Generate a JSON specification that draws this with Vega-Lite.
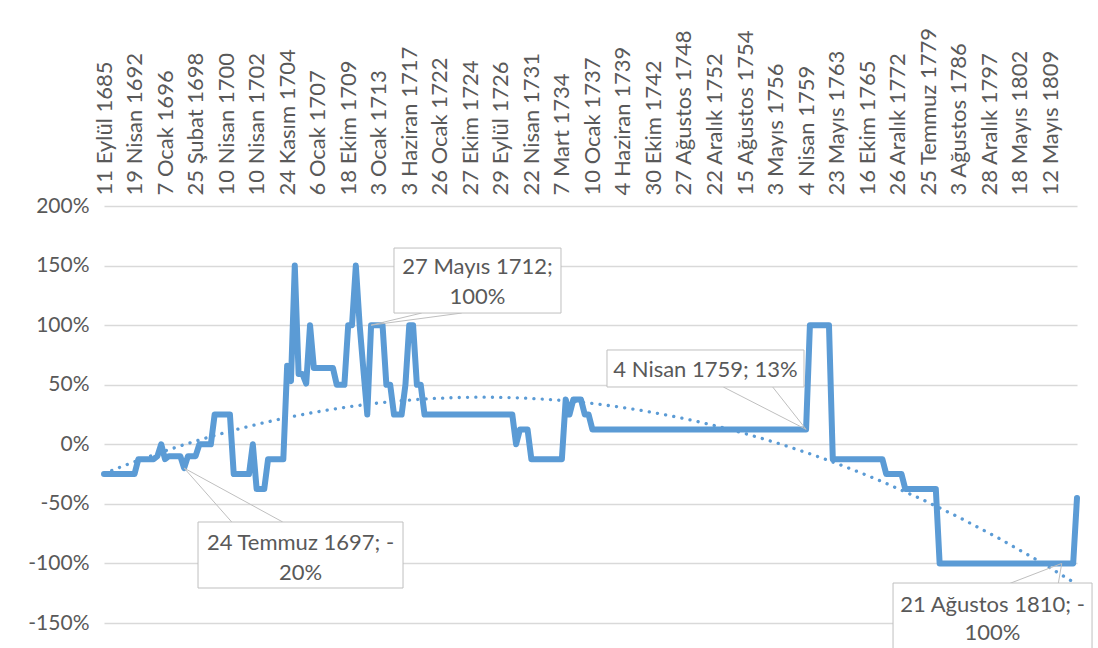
{
  "$schema": "https://vega.github.io/schema/vega-lite/v6.json",
  "autosize": {"type": "none"},
  "padding": {"left": 104, "top": 206, "right": 21, "bottom": 25},
  "width": 973,
  "height": 417,
  "background": "white",
  "config": {"view": {"stroke": null}},
  "data": {"values": [
    {"i":0,"date":"11 Eylül 1685","v":-0.25},{"i":1,"v":-0.25},{"i":2,"v":-0.25},{"i":3,"v":-0.25},{"i":4,"v":-0.25},{"i":5,"v":-0.25},{"i":6,"v":-0.25},{"i":7,"v":-0.25},
    {"i":8,"date":"19 Nisan 1692","v":-0.25},{"i":9,"v":-0.125},{"i":10,"v":-0.125},{"i":11,"v":-0.125},{"i":12,"v":-0.125},{"i":13,"v":-0.125},{"i":14,"v":-0.1},{"i":15,"v":0},
    {"i":16,"date":"7 Ocak 1696","v":-0.125},{"i":17,"v":-0.1},{"i":18,"v":-0.1},{"i":19,"v":-0.1},{"i":20,"v":-0.1},{"i":21,"date":"24 Temmuz 1697","v":-0.2},{"i":22,"v":-0.1},{"i":23,"v":-0.1},
    {"i":24,"date":"25 Şubat 1698","v":-0.1},{"i":25,"v":0},{"i":26,"v":0},{"i":27,"v":0},{"i":28,"v":0},{"i":29,"v":0.25},{"i":30,"v":0.25},{"i":31,"v":0.25},
    {"i":32,"date":"10 Nisan 1700","v":0.25},{"i":33,"v":0.25},{"i":34,"v":-0.25},{"i":35,"v":-0.25},{"i":36,"v":-0.25},{"i":37,"v":-0.25},{"i":38,"v":-0.25},{"i":39,"v":0},
    {"i":40,"date":"10 Nisan 1702","v":-0.375},{"i":41,"v":-0.375},{"i":42,"v":-0.375},{"i":43,"v":-0.125},{"i":44,"v":-0.125},{"i":45,"v":-0.125},{"i":46,"v":-0.125},{"i":47,"v":-0.125},
    {"i":48,"date":"24 Kasım 1704","v":0.66},{"i":49,"v":0.53},{"i":50,"v":1.5},{"i":51,"v":0.59},{"i":52,"v":0.59},{"i":53,"v":0.51},{"i":54,"v":1},{"i":55,"v":0.64},
    {"i":56,"date":"6 Ocak 1707","v":0.64},{"i":57,"v":0.64},{"i":58,"v":0.64},{"i":59,"v":0.64},{"i":60,"v":0.64},{"i":61,"v":0.5},{"i":62,"v":0.5},{"i":63,"v":0.5},
    {"i":64,"date":"18 Ekim 1709","v":1},{"i":65,"v":1},{"i":66,"v":1.5},{"i":67,"v":1},{"i":68,"v":0.62},{"i":69,"v":0.25},{"i":70,"date":"27 Mayıs 1712","v":1},{"i":71,"v":1},
    {"i":72,"date":"3 Ocak 1713","v":1},{"i":73,"v":1},{"i":74,"v":0.5},{"i":75,"v":0.5},{"i":76,"v":0.25},{"i":77,"v":0.25},{"i":78,"v":0.25},{"i":79,"v":0.5},
    {"i":80,"date":"3 Haziran 1717","v":1},{"i":81,"v":1},{"i":82,"v":0.5},{"i":83,"v":0.5},{"i":84,"v":0.25},{"i":85,"v":0.25},{"i":86,"v":0.25},{"i":87,"v":0.25},
    {"i":88,"date":"26 Ocak 1722","v":0.25},{"i":89,"v":0.25},{"i":90,"v":0.25},{"i":91,"v":0.25},{"i":92,"v":0.25},{"i":93,"v":0.25},{"i":94,"v":0.25},{"i":95,"v":0.25},
    {"i":96,"date":"27 Ekim 1724","v":0.25},{"i":97,"v":0.25},{"i":98,"v":0.25},{"i":99,"v":0.25},{"i":100,"v":0.25},{"i":101,"v":0.25},{"i":102,"v":0.25},{"i":103,"v":0.25},
    {"i":104,"date":"29 Eylül 1726","v":0.25},{"i":105,"v":0.25},{"i":106,"v":0.25},{"i":107,"v":0.25},{"i":108,"v":0},{"i":109,"v":0.125},{"i":110,"v":0.125},{"i":111,"v":0.125},
    {"i":112,"date":"22 Nisan 1731","v":-0.125},{"i":113,"v":-0.125},{"i":114,"v":-0.125},{"i":115,"v":-0.125},{"i":116,"v":-0.125},{"i":117,"v":-0.125},{"i":118,"v":-0.125},{"i":119,"v":-0.125},
    {"i":120,"date":"7 Mart 1734","v":-0.125},{"i":121,"v":0.375},{"i":122,"v":0.25},{"i":123,"v":0.375},{"i":124,"v":0.375},{"i":125,"v":0.375},{"i":126,"v":0.25},{"i":127,"v":0.25},
    {"i":128,"date":"10 Ocak 1737","v":0.125},{"i":129,"v":0.125},{"i":130,"v":0.125},{"i":131,"v":0.125},{"i":132,"v":0.125},{"i":133,"v":0.125},{"i":134,"v":0.125},{"i":135,"v":0.125},
    {"i":136,"date":"4 Haziran 1739","v":0.125},{"i":137,"v":0.125},{"i":138,"v":0.125},{"i":139,"v":0.125},{"i":140,"v":0.125},{"i":141,"v":0.125},{"i":142,"v":0.125},{"i":143,"v":0.125},
    {"i":144,"date":"30 Ekim 1742","v":0.125},{"i":145,"v":0.125},{"i":146,"v":0.125},{"i":147,"v":0.125},{"i":148,"v":0.125},{"i":149,"v":0.125},{"i":150,"v":0.125},{"i":151,"v":0.125},
    {"i":152,"date":"27 Ağustos 1748","v":0.125},{"i":153,"v":0.125},{"i":154,"v":0.125},{"i":155,"v":0.125},{"i":156,"v":0.125},{"i":157,"v":0.125},{"i":158,"v":0.125},{"i":159,"v":0.125},
    {"i":160,"date":"22 Aralık 1752","v":0.125},{"i":161,"v":0.125},{"i":162,"v":0.125},{"i":163,"v":0.125},{"i":164,"v":0.125},{"i":165,"v":0.125},{"i":166,"v":0.125},{"i":167,"v":0.125},
    {"i":168,"date":"15 Ağustos 1754","v":0.125},{"i":169,"v":0.125},{"i":170,"v":0.125},{"i":171,"v":0.125},{"i":172,"v":0.125},{"i":173,"v":0.125},{"i":174,"v":0.125},{"i":175,"v":0.125},
    {"i":176,"date":"3 Mayıs 1756","v":0.125},{"i":177,"v":0.125},{"i":178,"v":0.125},{"i":179,"v":0.125},{"i":180,"v":0.125},{"i":181,"v":0.125},{"i":182,"v":0.125},{"i":183,"v":0.125},
    {"i":184,"date":"4 Nisan 1759","v":0.125},{"i":185,"v":1},{"i":186,"v":1},{"i":187,"v":1},{"i":188,"v":1},{"i":189,"v":1},{"i":190,"v":1},{"i":191,"v":-0.125},
    {"i":192,"date":"23 Mayıs 1763","v":-0.125},{"i":193,"v":-0.125},{"i":194,"v":-0.125},{"i":195,"v":-0.125},{"i":196,"v":-0.125},{"i":197,"v":-0.125},{"i":198,"v":-0.125},{"i":199,"v":-0.125},
    {"i":200,"date":"16 Ekim 1765","v":-0.125},{"i":201,"v":-0.125},{"i":202,"v":-0.125},{"i":203,"v":-0.125},{"i":204,"v":-0.125},{"i":205,"v":-0.25},{"i":206,"v":-0.25},{"i":207,"v":-0.25},
    {"i":208,"date":"26 Aralık 1772","v":-0.25},{"i":209,"v":-0.25},{"i":210,"v":-0.375},{"i":211,"v":-0.375},{"i":212,"v":-0.375},{"i":213,"v":-0.375},{"i":214,"v":-0.375},{"i":215,"v":-0.375},
    {"i":216,"date":"25 Temmuz 1779","v":-0.375},{"i":217,"v":-0.375},{"i":218,"v":-0.375},{"i":219,"v":-1},{"i":220,"v":-1},{"i":221,"v":-1},{"i":222,"v":-1},{"i":223,"v":-1},
    {"i":224,"date":"3 Ağustos 1786","v":-1},{"i":225,"v":-1},{"i":226,"v":-1},{"i":227,"v":-1},{"i":228,"v":-1},{"i":229,"v":-1},{"i":230,"v":-1},{"i":231,"v":-1},
    {"i":232,"date":"28 Aralık 1797","v":-1},{"i":233,"v":-1},{"i":234,"v":-1},{"i":235,"v":-1},{"i":236,"v":-1},{"i":237,"v":-1},{"i":238,"v":-1},{"i":239,"v":-1},
    {"i":240,"date":"18 Mayıs 1802","v":-1},{"i":241,"v":-1},{"i":242,"v":-1},{"i":243,"v":-1},{"i":244,"v":-1},{"i":245,"v":-1},{"i":246,"v":-1},{"i":247,"v":-1},
    {"i":248,"date":"12 Mayıs 1809","v":-1},{"i":249,"v":-1},{"i":250,"v":-1},{"i":251,"date":"21 Ağustos 1810","v":-1},{"i":252,"v":-1},{"i":253,"v":-1},{"i":254,"v":-1},{"i":255,"v":-0.45}
  ]},
  "encoding": {
    "x": {
      "field": "i", "type": "quantitative",
      "scale": {"domain": [0, 255], "nice": false, "zero": false},
      "axis": {
        "orient": "top", "title": null,
        "values": [0,8,16,24,32,40,48,56,64,72,80,88,96,104,112,120,128,136,144,152,160,168,176,184,192,200,208,216,224,232,240,248],
        "labelExpr": "['11 Eylül 1685','19 Nisan 1692','7 Ocak 1696','25 Şubat 1698','10 Nisan 1700','10 Nisan 1702','24 Kasım 1704','6 Ocak 1707','18 Ekim 1709','3 Ocak 1713','3 Haziran 1717','26 Ocak 1722','27 Ekim 1724','29 Eylül 1726','22 Nisan 1731','7 Mart 1734','10 Ocak 1737','4 Haziran 1739','30 Ekim 1742','27 Ağustos 1748','22 Aralık 1752','15 Ağustos 1754','3 Mayıs 1756','4 Nisan 1759','23 Mayıs 1763','16 Ekim 1765','26 Aralık 1772','25 Temmuz 1779','3 Ağustos 1786','28 Aralık 1797','18 Mayıs 1802','12 Mayıs 1809'][datum.value / 8]",
        "labelAngle": -90, "labelAlign": "left", "labelBaseline": "middle",
        "ticks": false, "domain": false, "grid": false,
        "labelFont": "Lato", "labelFontSize": 22, "labelColor": "#595959",
        "labelPadding": 11, "labelOverlap": false, "labelBound": false, "labelFlush": false, "labelLimit": 0
      }
    },
    "y": {
      "field": "v", "type": "quantitative",
      "scale": {"domain": [-1.5, 2], "nice": false, "zero": false},
      "axis": {
        "orient": "left", "title": null,
        "values": [-1.5, -1, -0.5, 0, 0.5, 1, 1.5, 2],
        "labelExpr": "round(datum.value * 100) + '%'",
        "grid": true, "gridColor": "#D9D9D9", "gridWidth": 1.3,
        "ticks": false, "domain": false,
        "labelFont": "Lato", "labelFontSize": 21, "labelColor": "#595959",
        "labelPadding": 15
      }
    }
  },
  "layer": [
    {
      "mark": {"type": "line", "color": "#5B9BD5", "strokeWidth": 6, "strokeJoin": "round", "strokeCap": "round"}
    },
    {
      "transform": [{"regression": "v", "on": "i", "method": "poly", "order": 2, "extent": [0, 255]}],
      "mark": {"type": "line", "color": "#5B9BD5", "strokeWidth": 3.3, "strokeDash": [0.1, 8.2], "strokeCap": "round"}
    },
    {
      "transform": [{"filter": "datum.date === '24 Temmuz 1697'"}],
      "mark": {"type": "rule", "color": "#BFBFBF", "strokeWidth": 1, "x2Offset": 47.6, "y2Offset": 53.9},
      "encoding": {"x2": {"field": "i"}, "y2": {"field": "v"}}
    },
    {
      "transform": [{"filter": "datum.date === '24 Temmuz 1697'"}],
      "mark": {"type": "rule", "color": "#BFBFBF", "strokeWidth": 1, "x2Offset": 98.6, "y2Offset": 53.9},
      "encoding": {"x2": {"field": "i"}, "y2": {"field": "v"}}
    },
    {
      "transform": [{"filter": "datum.date === '24 Temmuz 1697'"}],
      "mark": {"type": "rect", "fill": "white", "stroke": "#BFBFBF", "strokeWidth": 1, "width": 205, "height": 66, "xOffset": 116.4, "yOffset": 86.9}
    },
    {
      "transform": [{"filter": "datum.date === '24 Temmuz 1697'"}, {"calculate": "datum.date + '; ' + (datum.v < 0 ? '-' : '') + '\\n' + format(abs(datum.v), '.0%')", "as": "lbl"}],
      "mark": {"type": "text", "font": "Lato", "fontSize": 22, "color": "#595959", "align": "center", "baseline": "middle", "lineBreak": "\n", "lineHeight": 30, "xOffset": 116.4, "yOffset": 74.9},
      "encoding": {"text": {"field": "lbl", "type": "nominal"}}
    },
    {
      "transform": [{"filter": "datum.date === '27 Mayıs 1712'"}],
      "mark": {"type": "rule", "color": "#BFBFBF", "strokeWidth": 1, "x2Offset": 50.6, "y2Offset": -12.1},
      "encoding": {"x2": {"field": "i"}, "y2": {"field": "v"}}
    },
    {
      "transform": [{"filter": "datum.date === '27 Mayıs 1712'"}],
      "mark": {"type": "rule", "color": "#BFBFBF", "strokeWidth": 1, "x2Offset": 90.6, "y2Offset": -12.1},
      "encoding": {"x2": {"field": "i"}, "y2": {"field": "v"}}
    },
    {
      "transform": [{"filter": "datum.date === '27 Mayıs 1712'"}],
      "mark": {"type": "rect", "fill": "white", "stroke": "#BFBFBF", "strokeWidth": 1, "width": 167, "height": 65, "xOffset": 106.4, "yOffset": -44.6}
    },
    {
      "transform": [{"filter": "datum.date === '27 Mayıs 1712'"}, {"calculate": "datum.date + '; ' + (datum.v < 0 ? '-' : '') + '\\n' + format(abs(datum.v), '.0%')", "as": "lbl"}],
      "mark": {"type": "text", "font": "Lato", "fontSize": 22, "color": "#595959", "align": "center", "baseline": "middle", "lineBreak": "\n", "lineHeight": 30, "xOffset": 106.4, "yOffset": -58.4},
      "encoding": {"text": {"field": "lbl", "type": "nominal"}}
    },
    {
      "transform": [{"filter": "datum.date === '4 Nisan 1759'"}],
      "mark": {"type": "rule", "color": "#BFBFBF", "strokeWidth": 1, "x2Offset": -82.8, "y2Offset": -42.4},
      "encoding": {"x2": {"field": "i"}, "y2": {"field": "v"}}
    },
    {
      "transform": [{"filter": "datum.date === '4 Nisan 1759'"}],
      "mark": {"type": "rule", "color": "#BFBFBF", "strokeWidth": 1, "x2Offset": -33.4, "y2Offset": -42.4},
      "encoding": {"x2": {"field": "i"}, "y2": {"field": "v"}}
    },
    {
      "transform": [{"filter": "datum.date === '4 Nisan 1759'"}],
      "mark": {"type": "rect", "fill": "white", "stroke": "#BFBFBF", "strokeWidth": 1, "width": 197, "height": 37, "xOffset": -100.6, "yOffset": -60.9}
    },
    {
      "transform": [{"filter": "datum.date === '4 Nisan 1759'"}, {"calculate": "datum.date + '; ' + format(datum.v, '.0%')", "as": "lbl"}],
      "mark": {"type": "text", "font": "Lato", "fontSize": 22, "color": "#595959", "align": "center", "baseline": "middle", "xOffset": -100.6, "yOffset": -59.4},
      "encoding": {"text": {"field": "lbl", "type": "nominal"}}
    },
    {
      "transform": [{"filter": "datum.date === '21 Ağustos 1810'"}],
      "mark": {"type": "rule", "color": "#BFBFBF", "strokeWidth": 1, "x2Offset": -51.7, "y2Offset": 19.9},
      "encoding": {"x2": {"field": "i"}, "y2": {"field": "v"}}
    },
    {
      "transform": [{"filter": "datum.date === '21 Ağustos 1810'"}],
      "mark": {"type": "rule", "color": "#BFBFBF", "strokeWidth": 1, "x2Offset": -3.4, "y2Offset": 19.9},
      "encoding": {"x2": {"field": "i"}, "y2": {"field": "v"}}
    },
    {
      "transform": [{"filter": "datum.date === '21 Ağustos 1810'"}],
      "mark": {"type": "rect", "fill": "white", "stroke": "#BFBFBF", "strokeWidth": 1, "width": 199, "height": 66, "xOffset": -69.2, "yOffset": 52.6}
    },
    {
      "transform": [{"filter": "datum.date === '21 Ağustos 1810'"}, {"calculate": "datum.date + '; ' + (datum.v < 0 ? '-' : '') + '\\n' + format(abs(datum.v), '.0%')", "as": "lbl"}],
      "mark": {"type": "text", "font": "Lato", "fontSize": 22, "color": "#595959", "align": "center", "baseline": "middle", "lineBreak": "\n", "lineHeight": 28, "xOffset": -69.2, "yOffset": 41.6},
      "encoding": {"text": {"field": "lbl", "type": "nominal"}}
    }
  ]
}
